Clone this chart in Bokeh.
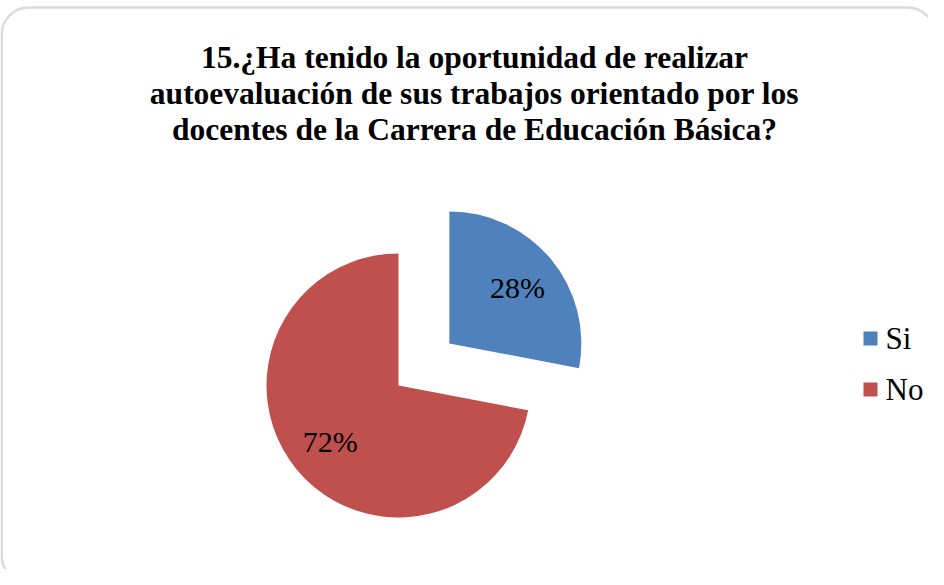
import math
from bokeh.plotting import figure
from bokeh.models import Range1d, BoxAnnotation
from bokeh.core.properties import value
from bokeh.embed import file_html
from bokeh.resources import INLINE

# ---- data ----
categories = ["Si", "No"]
percentages = [28, 72]
colors = ["#4F81BD", "#C0504D"]
exploded = [True, False]
title_lines = [
    "15.¿Ha tenido la oportunidad de realizar",
    "autoevaluación de sus trabajos orientado por los",
    "docentes de la Carrera de Educación Básica?",
]

W, H = 928, 569


def Y(cy):
    # canvas y (top-down) -> data y
    return H - cy


p = figure(width=W, height=H, output_backend="svg", toolbar_location=None,
           x_range=Range1d(0, W), y_range=Range1d(0, H), min_border=0,
           tools="")
p.axis.visible = False
p.grid.visible = False
p.outline_line_color = None
p.background_fill_color = "white"
p.border_fill_color = "white"

# rounded frame
frame = BoxAnnotation(left=1.2, right=934, top=Y(7), bottom=Y(582),
                      fill_alpha=0, line_color="#878787", line_width=2.4,
                      border_radius=27)
p.add_layout(frame)

# title
for i, line in enumerate(title_lines):
    p.text(x=[474], y=[Y(56.5 + i * 36)], text=[line], text_align="center",
           text_baseline="alphabetic", text_font=value("Liberation Serif"),
           text_font_style="bold", text_font_size="31.5px", text_color="black")

# pie
cx, cy = 398, Y(385)
r = 132
explode_dist = 66
total = sum(percentages)
start = math.pi / 2
for cat, pct, col, ex in zip(categories, percentages, colors, exploded):
    sweep = 2 * math.pi * pct / total
    end = start - sweep
    mid = (start + end) / 2
    ox = cx + (explode_dist * math.cos(mid) if ex else 0)
    oy = cy + (explode_dist * math.sin(mid) if ex else 0)
    p.wedge(x=[ox], y=[oy], radius=r, start_angle=end, end_angle=start,
            fill_color=col, line_color=None)
    lx = ox + 0.67 * r * math.cos(mid)
    ly = oy + 0.67 * r * math.sin(mid)
    p.text(x=[lx], y=[ly], text=[f"{pct}%"], text_align="center",
           text_baseline="middle", text_font=value("Liberation Serif"),
           text_font_size="30px", text_color="black")
    start = end

# legend
for i, (cat, col) in enumerate(zip(categories, colors)):
    ly = Y(338 + i * 51)
    p.scatter(x=[870], y=[ly], marker="square", size=14, fill_color=col,
              line_color=None)
    p.text(x=[885], y=[ly], text=[cat], text_align="left",
           text_baseline="middle", text_font=value("Liberation Serif"),
           text_font_size="31px", text_color="black")

open("out.html", "w").write(file_html(p, INLINE))
